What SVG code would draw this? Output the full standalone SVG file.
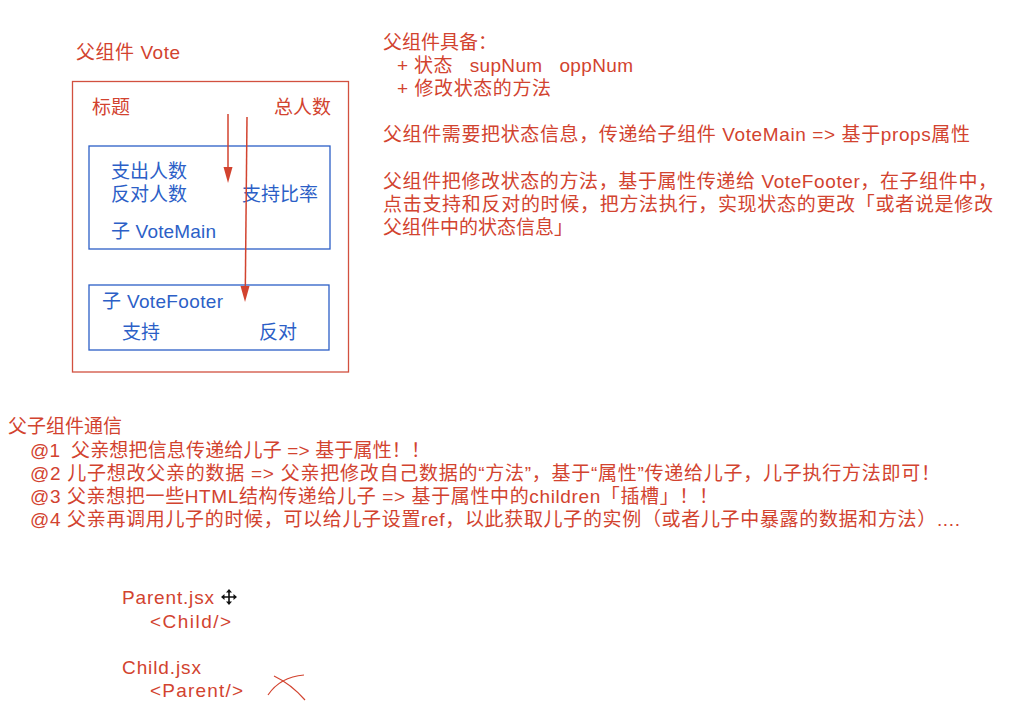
<svg xmlns="http://www.w3.org/2000/svg" width="1021" height="724" viewBox="0 0 1021 724">
<style>
text{font-family:"Liberation Sans","Noto Sans CJK SC",sans-serif;font-size:19px;white-space:pre}
.r{fill:#d2432f}
.b{fill:#2c5fc7}
.rbox{fill:none;stroke:#d2503f;stroke-width:1.3}
.bbox{fill:none;stroke:#2c5fc7;stroke-width:1.3}
.arr{stroke:#d2432f;stroke-width:1.5;fill:none}
</style>
<rect width="1021" height="724" fill="#ffffff"/>
<g id="vote">
<text class="r" x="76" y="59" textLength="104">父组件 Vote</text>
<rect class="rbox" x="72.5" y="81.5" width="276" height="290.5"/>
<text class="r" x="92" y="114">标题</text>
<text class="r" x="331" y="114" text-anchor="end">总人数</text>
</g>
<g id="votemain">
<rect class="bbox" x="89" y="146" width="241" height="103"/>
<text class="b" x="111" y="178">支出人数</text>
<text class="b" x="111" y="201">反对人数</text>
<text class="b" x="242" y="201">支持比率</text>
<text class="b" x="111" y="238" textLength="105">子 VoteMain</text>
</g>
<g id="votefooter">
<rect class="bbox" x="89" y="285" width="240" height="65"/>
<text class="b" x="102" y="308" textLength="121">子 VoteFooter</text>
<text class="b" x="122" y="339">支持</text>
<text class="b" x="259" y="339">反对</text>
</g>
<g id="connectors">
<path class="arr" d="M228,114 L228,170"/>
<path d="M223.5,167 L232.5,167 L228,183 Z" fill="#d2432f"/>
<path class="arr" d="M247,117 L245.3,290"/>
<path d="M240.5,286 L249.5,286 L245,302 Z" fill="#d2432f"/>
</g>
<g id="notes-right">
<text class="r" x="383" y="49">父组件具备：</text>
<text class="r" x="397" y="72" textLength="236">+ 状态   supNum   oppNum</text>
<text class="r" x="397" y="95" textLength="154">+ 修改状态的方法</text>
<text class="r" x="383" y="141" textLength="587">父组件需要把状态信息，传递给子组件 VoteMain => 基于props属性</text>
<text class="r" x="383" y="188" textLength="614">父组件把修改状态的方法，基于属性传递给 VoteFooter，在子组件中，</text>
<text class="r" x="383" y="211" textLength="610">点击支持和反对的时候，把方法执行，实现状态的更改「或者说是修改</text>
<text class="r" x="383" y="234">父组件中的状态信息」</text>
</g>
<g id="notes-bottom">
<text class="r" x="8" y="433">父子组件通信</text>
<text class="r" x="30" y="457" textLength="400">@1  父亲想把信息传递给儿子 => 基于属性！！</text>
<text class="r" x="30" y="480" textLength="910">@2 儿子想改父亲的数据 => 父亲把修改自己数据的“方法”，基于“属性”传递给儿子，儿子执行方法即可！</text>
<text class="r" x="30" y="503" textLength="688">@3 父亲想把一些HTML结构传递给儿子 => 基于属性中的children「插槽」！！</text>
<text class="r" x="30" y="526" textLength="930">@4 父亲再调用儿子的时候，可以给儿子设置ref，以此获取儿子的实例（或者儿子中暴露的数据和方法）....</text>
</g>
<g id="code">
<text class="r" x="122" y="604" textLength="92">Parent.jsx</text>
<text class="r" x="150" y="628" textLength="81">&lt;Child/&gt;</text>
<text class="r" x="122" y="674" textLength="79">Child.jsx</text>
<text class="r" x="150" y="697" textLength="93">&lt;Parent/&gt;</text>
<path d="M229,590 L229,604 M222,597 L236,597" stroke="#111" stroke-width="1.6" fill="none"/>
<path d="M229,589 L226,592.5 L232,592.5 Z M229,605 L226,601.5 L232,601.5 Z M221,597 L224.5,594 L224.5,600 Z M237,597 L233.5,594 L233.5,600 Z" fill="#111"/>
<path d="M268,695 Q280,677 304,675" stroke="#d2432f" stroke-width="1.2" fill="none"/>
<path d="M274,676 Q291,684 305,700" stroke="#d2432f" stroke-width="1.2" fill="none"/>
</g>
</svg>
